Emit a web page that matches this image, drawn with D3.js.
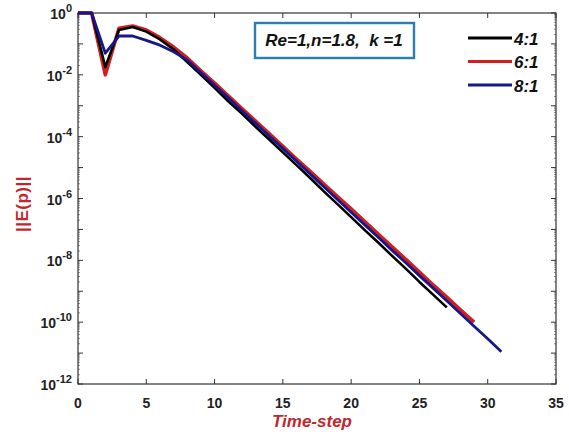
<!DOCTYPE html>
<html lang="en">
<head>
<meta charset="UTF-8">
<title>||E(p)|| vs time-step</title>
<script src="https://d3js.org/d3.v7.min.js"></script>
<style>
  body { margin: 0; background: #fff; }
  text { font-family: "Liberation Sans", Arial, sans-serif; }
</style>
</head>
<body>
<div id="chart"></div>
<script>
// data
const steps4 = d3.range(0, 28);
const steps6 = d3.range(0, 30);
const steps8 = d3.range(0, 32);

const err4 = [1, 1, 1.8e-2, 2.8e-1, 3.5e-1, 2.5e-1, 1.4e-1, 6.6e-2, 2.6e-2, 1.0e-2,
  3.8e-3, 1.4e-3, 5.6e-4, 2.1e-4, 8.1e-5, 3.1e-5, 1.2e-5, 4.6e-6, 1.7e-6, 6.6e-7,
  2.5e-7, 9.5e-8, 3.7e-8, 1.4e-8, 5.4e-9, 2.0e-9, 7.8e-10, 3.0e-10];

const err6 = [1, 1, 1.0e-2, 3.2e-1, 3.8e-1, 2.8e-1, 1.6e-1, 7.9e-2, 3.5e-2, 1.35e-2,
  5.4e-3, 2.1e-3, 8.1e-4, 3.2e-4, 1.26e-4, 4.9e-5, 1.9e-5, 7.6e-6, 2.95e-6, 1.15e-6,
  4.6e-7, 1.8e-7, 6.9e-8, 2.75e-8, 1.07e-8, 4.2e-9, 1.6e-9, 6.5e-10, 2.5e-10, 1.0e-10];

const err8 = [1, 1, 5.0e-2, 1.8e-1, 1.8e-1, 1.3e-1, 9.1e-2, 5.6e-2, 3.0e-2, 1.17e-2,
  4.6e-3, 1.8e-3, 6.9e-4, 2.7e-4, 1.05e-4, 4.1e-5, 1.6e-5, 6.2e-6, 2.4e-6, 9.3e-7,
  3.6e-7, 1.4e-7, 5.5e-8, 2.1e-8, 8.3e-9, 3.2e-9, 1.26e-9, 4.9e-10, 1.9e-10, 7.4e-11,
  2.9e-11, 1.1e-11];

const xTicks = [0, 5, 10, 15, 20, 25, 30, 35];
const yTickExp = [0, -2, -4, -6, -8, -10, -12];
const seriesNames = ["4:1", "6:1", "8:1"];
const seriesColors = ["#000000", "#d01f1f", "#17178c"];

const W = 569, H = 432;
const m = { left: 78, right: 13, top: 13, bottom: 48 };

const svg = d3.select("#chart").append("svg")
  .attr("width", W).attr("height", H);

const x = d3.scaleLinear().domain([0, 35]).range([m.left, W - m.right]);
const y = d3.scaleLog().domain([1e-12, 1]).range([H - m.bottom, m.top]);

// minor log ticks (dotted look like matlab)
const minor = [];
for (let e = -12; e < 0; e++) {
  for (let k = 2; k <= 9; k++) minor.push(k * Math.pow(10, e));
}
svg.append("g").selectAll("line").data(minor).join("line")
  .attr("x1", m.left).attr("x2", m.left + 2)
  .attr("y1", d => y(d)).attr("y2", d => y(d))
  .attr("stroke", "#777").attr("stroke-width", 0.8);
svg.append("g").selectAll("line").data(minor).join("line")
  .attr("x1", W - m.right).attr("x2", W - m.right - 2)
  .attr("y1", d => y(d)).attr("y2", d => y(d))
  .attr("stroke", "#777").attr("stroke-width", 0.8);

// major ticks on every decade
const decades = d3.range(-12, 1).map(e => Math.pow(10, e));
svg.append("g").selectAll("line").data(decades).join("line")
  .attr("x1", m.left).attr("x2", m.left + 5)
  .attr("y1", d => y(d)).attr("y2", d => y(d))
  .attr("stroke", "#333");
svg.append("g").selectAll("line").data(decades).join("line")
  .attr("x1", W - m.right).attr("x2", W - m.right - 5)
  .attr("y1", d => y(d)).attr("y2", d => y(d))
  .attr("stroke", "#333");

// x ticks bottom and top
svg.append("g").selectAll("line").data(xTicks).join("line")
  .attr("x1", d => x(d)).attr("x2", d => x(d))
  .attr("y1", H - m.bottom).attr("y2", H - m.bottom - 5)
  .attr("stroke", "#333");
svg.append("g").selectAll("line").data(xTicks).join("line")
  .attr("x1", d => x(d)).attr("x2", d => x(d))
  .attr("y1", m.top).attr("y2", m.top + 5)
  .attr("stroke", "#333");

// frame
svg.append("rect")
  .attr("x", m.left).attr("y", m.top)
  .attr("width", W - m.left - m.right).attr("height", H - m.top - m.bottom)
  .attr("fill", "none").attr("stroke", "#333").attr("stroke-width", 1.2);

// x tick labels
svg.append("g").selectAll("text").data(xTicks).join("text")
  .attr("x", d => x(d)).attr("y", H - m.bottom + 24)
  .attr("text-anchor", "middle")
  .attr("font-size", 14).attr("font-weight", "bold").attr("fill", "#222")
  .text(d => d);

// y tick labels 10^n
const yl = svg.append("g").selectAll("text").data(yTickExp).join("text")
  .attr("x", m.left - 6).attr("y", d => y(Math.pow(10, d)) + 6)
  .attr("text-anchor", "end")
  .attr("font-size", 14).attr("font-weight", "bold").attr("fill", "#222");
yl.append("tspan").text("10");
yl.append("tspan").attr("dy", -7).attr("font-size", 11).text(d => d);

// lines, red below black, blue on top
const line = d3.line().x(d => x(d[0])).y(d => y(d[1]));
const drawOrder = [
  { steps: steps6, vals: err6, c: seriesColors[1], w: 3.6 },
  { steps: steps4, vals: err4, c: seriesColors[0], w: 2.6 },
  { steps: steps8, vals: err8, c: seriesColors[2], w: 2.8 }
];
drawOrder.forEach(s => {
  svg.append("path")
    .datum(s.steps.map((t, i) => [t, s.vals[i]]))
    .attr("d", line)
    .attr("fill", "none")
    .attr("stroke", s.c)
    .attr("stroke-width", s.w)
    .attr("stroke-linejoin", "round");
});

// annotation box
svg.append("rect")
  .attr("x", 255).attr("y", 23).attr("width", 159).attr("height", 35)
  .attr("fill", "#fff").attr("stroke", "#2a7fae").attr("stroke-width", 2.4);
svg.append("text")
  .attr("x", 334).attr("y", 46)
  .attr("text-anchor", "middle")
  .attr("font-size", 17).attr("font-weight", "bold").attr("font-style", "italic")
  .attr("fill", "#111")
  .text("Re=1,n=1.8,\u00a0 k =1");

// legend
const leg = svg.append("g").selectAll("g").data(seriesNames).join("g")
  .attr("transform", (d, i) => `translate(468, ${38 + i * 23.5})`);
leg.append("line")
  .attr("x1", 0).attr("x2", 44)
  .attr("stroke", (d, i) => seriesColors[i]).attr("stroke-width", 3);
leg.append("text")
  .attr("x", 46).attr("y", 6.5)
  .attr("font-size", 17).attr("font-weight", "bold").attr("font-style", "italic")
  .attr("fill", "#111")
  .text(d => d);

// axis titles
svg.append("text")
  .attr("x", 312).attr("y", 427)
  .attr("text-anchor", "middle")
  .attr("font-size", 17).attr("font-weight", "bold").attr("font-style", "italic")
  .attr("fill", "#c0282d")
  .text("Time-step");

svg.append("text")
  .attr("transform", "translate(28, 204) rotate(-90)")
  .attr("text-anchor", "middle")
  .attr("font-size", 17).attr("font-weight", "bold")
  .attr("letter-spacing", 0.5)
  .attr("fill", "#c0282d")
  .text("||E(p)||");
</script>
</body>
</html>
